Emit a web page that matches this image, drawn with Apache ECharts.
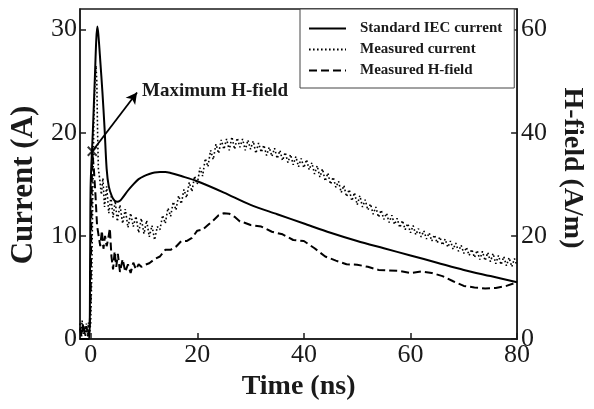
<!DOCTYPE html>
<html>
<head>
<meta charset="utf-8">
<script src="https://cdn.jsdelivr.net/npm/echarts@6/dist/echarts.min.js"></script>
<style>html,body{margin:0;padding:0;background:#fff}#c{width:594px;height:409px}</style>
</head>
<body>
<div id="c"></div>
<script>
// ---- data ----
const xTicks = [0, 20, 40, 60, 80];
const leftTicks = [0, 10, 20, 30];
const rightTicks = [0, 20, 40, 60];
const seriesNames = ['Standard IEC current', 'Measured current', 'Measured H-field'];

// Standard IEC current (A)
const iecT = [-2, -0.3, -0.1, 0, 0.4, 0.8, 1.05, 1.25, 1.45, 1.8, 2.2, 2.6, 3.0, 3.4, 4.0, 4.5, 5.0, 5.5, 6, 7, 8, 9, 10, 11, 12, 13, 14, 15, 17, 20, 25, 30, 35, 40, 45, 50, 55, 60, 65, 70, 75, 80];
const iecI = [0, 0, 8, 15, 20, 25.5, 29, 30.3, 29.5, 27, 24, 20.5, 16.5, 14.8, 13.8, 13.4, 13.3, 13.4, 13.7, 14.4, 15.0, 15.5, 15.8, 16.0, 16.15, 16.2, 16.2, 16.1, 15.8, 15.3, 14.2, 13.0, 12.1, 11.2, 10.3, 9.5, 8.8, 8.1, 7.4, 6.7, 6.1, 5.5];

// Measured current (A) – noisy band, upper/lower edges read alternately
const measT = [-2, -1.8, -1.6, -1.4, -1.2, -1.0, -0.8, -0.6, -0.4, -0.2, 0, 0.2, 0.4, 0.6, 0.8, 1.0, 1.15, 1.3, 1.45, 1.7, 2.0, 2.3, 2.6, 3.0, 3.4, 3.8, 4.2, 4.6, 5, 5.5, 6, 6.5, 7, 7.5, 8, 8.5, 9, 9.5, 10, 10.5, 11, 11.5, 12, 12.5, 13, 13.5, 14, 14.5, 15, 15.5, 16, 16.5, 17, 17.5, 18, 18.5, 19, 19.5, 20, 20.5, 21, 21.5, 22, 22.5, 23, 23.5, 24, 24.5, 25, 25.5, 26, 26.5, 27, 27.5, 28, 28.5, 29, 29.5, 30, 30.5, 31, 31.5, 32, 32.5, 33, 33.5, 34, 34.5, 35, 35.5, 36, 36.5, 37, 37.5, 38, 38.5, 39, 39.5, 40, 40.5, 41, 41.5, 42, 42.5, 43, 43.5, 44, 44.5, 45, 45.5, 46, 46.5, 47, 47.5, 48, 48.5, 49, 49.5, 50, 50.5, 51, 51.5, 52, 52.5, 53, 53.5, 54, 54.5, 55, 55.5, 56, 56.5, 57, 57.5, 58, 58.5, 59, 59.5, 60, 60.5, 61, 61.5, 62, 62.5, 63, 63.5, 64, 64.5, 65, 65.5, 66, 66.5, 67, 67.5, 68, 68.5, 69, 69.5, 70, 70.5, 71, 71.5, 72, 72.5, 73, 73.5, 74, 74.5, 75, 75.5, 76, 76.5, 77, 77.5, 78, 78.5, 79, 79.5, 80];
const measI = [1.5, 0.3, 1.8, 0.5, 1.2, 0.2, 1.5, 0.4, 1.6, 0.6, 1.5, 6, 14, 21, 25, 26.5, 25, 20, 16.5, 15.5, 14, 15.6, 12.8, 14.8, 12.2, 13.8, 11.8, 13.4, 11.4, 13.0, 11.2, 12.6, 10.8, 12.2, 10.9, 11.9, 10.3, 11.7, 10.2, 11.5, 9.9, 11.0, 9.6, 10.9, 10.6, 12.0, 11.2, 12.7, 11.9, 13.3, 12.5, 13.9, 13.1, 14.5, 13.7, 15.2, 14.3, 15.8, 15.0, 16.6, 15.8, 17.5, 16.7, 18.3, 17.4, 18.9, 18.0, 19.3, 18.4, 19.4, 18.3, 19.6, 18.4, 19.5, 18.6, 19.4, 18.3, 19.3, 18.4, 19.2, 18.0, 19.0, 18.1, 18.8, 17.8, 18.6, 17.7, 18.5, 17.5, 18.3, 17.3, 18.1, 17.1, 17.9, 16.9, 17.7, 16.7, 17.5, 16.6, 17.4, 16.4, 17.1, 16.0, 16.8, 15.7, 16.5, 15.3, 16.1, 15.0, 15.7, 14.7, 15.3, 14.2, 14.9, 13.8, 14.5, 13.4, 14.2, 13.0, 13.9, 12.8, 13.5, 12.5, 13.1, 12.1, 12.8, 11.8, 12.5, 11.6, 12.2, 11.3, 12.0, 11.1, 11.7, 10.8, 11.5, 10.6, 11.2, 10.3, 11.0, 10.1, 10.7, 9.9, 10.5, 9.7, 10.3, 9.5, 10.1, 9.3, 9.9, 9.1, 9.7, 8.9, 9.5, 8.7, 9.3, 8.5, 9.1, 8.3, 8.9, 8.1, 8.7, 7.9, 8.6, 7.7, 8.5, 7.6, 8.4, 7.5, 8.3, 7.3, 8.1, 7.2, 8.0, 7.1, 7.9, 7.0, 7.8, 7.1, 7.6];

// Measured H-field (A/m)
const hT = [-2, -1.7, -1.4, -1.1, -0.8, -0.5, -0.2, 0, 0.15, 0.3, 0.6, 0.9, 1.2, 1.5, 1.8, 2.1, 2.4, 2.7, 3.0, 3.3, 3.6, 3.9, 4.2, 4.5, 4.8, 5.1, 5.5, 6, 6.5, 7, 7.5, 8, 8.5, 9, 9.5, 10, 11, 12, 13, 14, 15, 16, 17, 18, 19, 20, 21, 22, 23, 24, 25, 26, 27, 28, 29, 30, 32, 34, 36, 38, 40, 42, 44, 46, 48, 50, 52, 54, 56, 58, 60, 62, 64, 66, 68, 70, 72, 74, 76, 78, 80];
const hH = [2, 0.5, 3, 1, 2.5, 0.5, 2, 8, 25, 36.4, 33, 28, 22, 20, 18, 21, 17.5, 20, 18, 19.5, 21.5, 16, 13.5, 17, 14, 16.5, 13, 15.5, 13, 14.5, 12.8, 14.8, 13.5, 14.5, 14, 14.3, 14.7, 15.5, 16, 17.3, 17.3, 17.9, 19, 19, 19.6, 21, 21.2, 22.1, 23, 24, 24.4, 24.3, 23.7, 22.8, 22.5, 22.1, 21.8, 20.8, 20.3, 19.2, 19.0, 17.6, 16.0, 15.2, 14.5, 14.4, 14.0, 13.4, 13.3, 13.2, 12.8, 13.1, 12.8, 12.2, 11.2, 10.3, 10.0, 9.8, 9.9, 10.3, 11];

// annotation: maximum H-field point and arrow tip
const maxPoint = [0.3, 36.4];
const arrowTip = [8.7, 47.8];
const annotationText = 'Maximum H-field';

const pairs = (t, v) => t.map((x, i) => [x, v[i]]);
const SERIF = '"Liberation Serif", "Times New Roman", serif';
const INK = '#1a1a1a';

const chart = echarts.init(document.getElementById('c'));
chart.setOption({
  animation: false,
  backgroundColor: '#fff',
  grid: { left: 80, right: 71, top: 9, bottom: 70, show: true, borderColor: INK, borderWidth: 1.5, backgroundColor: 'transparent' },
  legend: {
    data: seriesNames,
    orient: 'vertical',
    left: 300, top: 9,
    itemWidth: 37, itemHeight: 14, itemGap: 6,
    padding: [12, 12, 10, 8],
    borderColor: '#444', borderWidth: 1,
    backgroundColor: '#fff',
    itemStyle: { opacity: 0, borderWidth: 0 },
    textStyle: { fontFamily: SERIF, fontWeight: 'bold', fontSize: 15, color: INK, padding: [0, 0, 0, 9] },
    selectedMode: false
  },
  xAxis: {
    type: 'value', min: -2, max: 80,
    name: 'Time (ns)', nameLocation: 'middle', nameGap: 32,
    nameTextStyle: { fontFamily: SERIF, fontWeight: 'bold', fontSize: 28, color: INK },
    axisLine: { show: true, onZero: false, lineStyle: { color: INK, width: 1.5 } },
    axisTick: { show: true, inside: true, length: 6, customValues: xTicks, lineStyle: { color: INK, width: 1.5 } },
    axisLabel: { customValues: xTicks, fontFamily: SERIF, fontSize: 26, color: INK, margin: 3 },
    splitLine: { show: false }
  },
  yAxis: [{
    type: 'value', min: 0, max: 32, position: 'left',
    name: 'Current (A)', nameLocation: 'middle', nameGap: 41, nameRotate: 90,
    nameTextStyle: { fontFamily: SERIF, fontWeight: 'bold', fontSize: 31, color: INK, padding: [0, 22, 0, 0] },
    axisLine: { show: true, onZero: false, lineStyle: { color: INK, width: 1.5 } },
    axisTick: { show: true, inside: true, length: 6, customValues: leftTicks, lineStyle: { color: INK, width: 1.5 } },
    axisLabel: { customValues: leftTicks, fontFamily: SERIF, fontSize: 26, color: INK, margin: 3 },
    splitLine: { show: false }
  }, {
    type: 'value', min: 0, max: 64, position: 'right',
    name: 'H-field (A/m)', nameLocation: 'middle', nameGap: 38, nameRotate: -90,
    nameTextStyle: { fontFamily: SERIF, fontWeight: 'bold', fontSize: 28, color: INK, padding: [0, 12, 0, 0] },
    axisLine: { show: true, onZero: false, lineStyle: { color: INK, width: 1.5 } },
    axisTick: { show: true, inside: true, length: 6, customValues: rightTicks, lineStyle: { color: INK, width: 1.5 } },
    axisLabel: { customValues: rightTicks, fontFamily: SERIF, fontSize: 26, color: INK, margin: 4 },
    splitLine: { show: false }
  }],
  series: [{
    name: seriesNames[0], type: 'line', yAxisIndex: 0, symbol: 'none', smooth: 0.3,
    data: pairs(iecT, iecI),
    lineStyle: { color: '#000', width: 2, type: 'solid' }, itemStyle: { color: '#000' }, z: 3
  }, {
    name: seriesNames[1], type: 'line', yAxisIndex: 0, symbol: 'none',
    data: pairs(measT, measI),
    lineStyle: { color: '#000', width: 1.6, type: [1.6, 2.4] }, itemStyle: { color: '#000' }, z: 2
  }, {
    name: seriesNames[2], type: 'line', yAxisIndex: 1, symbol: 'none',
    data: pairs(hT, hH),
    lineStyle: { color: '#000', width: 2, type: [8, 4] }, itemStyle: { color: '#000' }, z: 2
  }, {
    name: 'max', type: 'scatter', yAxisIndex: 1,
    data: [maxPoint],
    symbol: 'path://M0,0L10,10M10,0L0,10', symbolSize: 9,
    itemStyle: { color: 'none', borderColor: '#000', borderWidth: 2 },
    markLine: {
      silent: true, symbol: ['none', 'arrow'], symbolSize: [9, 11],
      lineStyle: { color: '#000', width: 1.8, type: 'solid' },
      label: { show: false },
      data: [[{ coord: maxPoint }, { coord: arrowTip }]]
    },
    z: 5
  }],
  graphic: [{
    type: 'text', left: 142, top: 82,
    style: { text: annotationText, font: 'bold 19px ' + SERIF, fill: INK }
  }]
});
</script>
</body>
</html>
